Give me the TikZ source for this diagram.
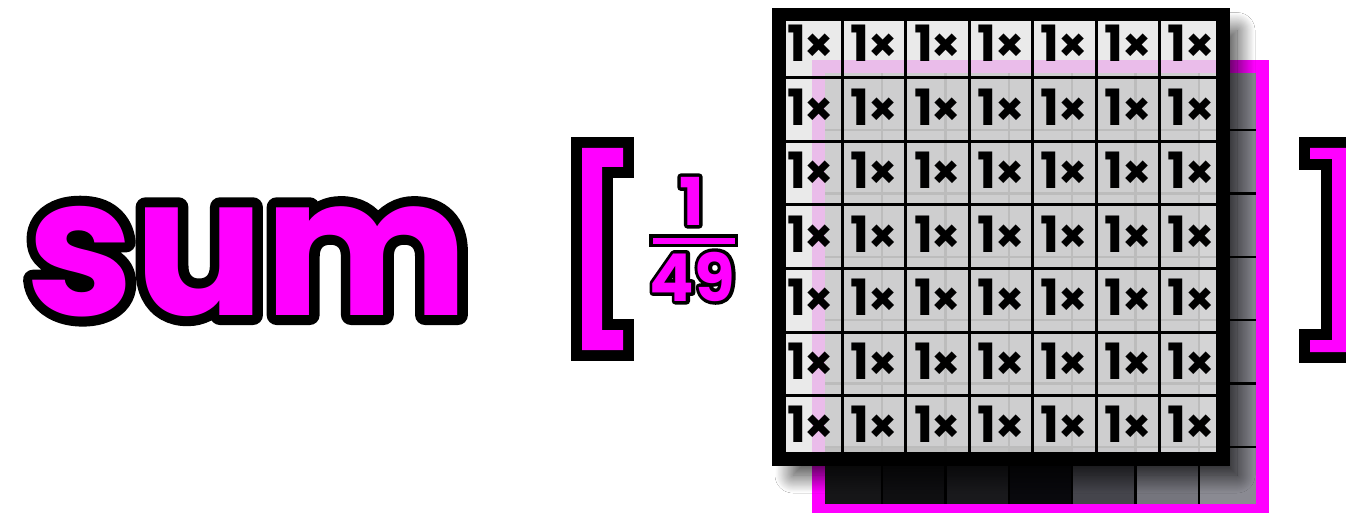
\documentclass[tikz,border=0pt]{standalone}
\usepackage{fontspec}
\newfontfamily\pop{Poppins}
\usetikzlibrary{shadows.blur}
\definecolor{mag}{HTML}{FF00FF}
\definecolor{backgray}{HTML}{666669}
\definecolor{frontgray}{HTML}{E6E6E6}
\newcommand\outlined[2]{\special{pdf:literal direct 2 Tr #1 w 1 j}#2\special{pdf:literal direct 0 Tr 0 j 0.4 w}}
\newcommand\onetimes{{\fontsize{50}{50}\selectfont 1\kern-1pt}{\fontsize{46}{46}\selectfont ×}}
\begin{document}
\begin{tikzpicture}[x=1pt,y=-1pt,
  lbl/.style={inner sep=0pt, font=\pop\bfseries, text=black},
  sumtxt/.style={inner sep=0pt, anchor=base, font=\pop\bfseries\fontsize{193}{193}\selectfont},
  fractxt/.style={inner sep=0pt, font=\pop\bfseries\fontsize{66}{66}\selectfont},
  brk/.style={line width=22pt, miter limit=10, draw=black},
  brkfill/.style={fill=mag},
  gridline/.style={line width=3pt, draw=black},
  backline/.style={line width=2.5pt, draw=black},
]
\useasboundingbox[fill=white] (0,0) rectangle (1346,513);

% ---------- back image ----------
\fill[backgray] (818.5,66.5) rectangle (1262.5,510.5);
\foreach \r in {0,...,5}
  \fill[fill={rgb,255:red,133;green,133;blue,141}] (1199,{66.5+63.43*\r}) rectangle (1262.5,{66.5+63.43*(\r+1)});
\foreach \c/\col in {0/161618,1/0F0F11,2/19191C,3/09090D,4/45454C,5/75757D,6/8A8A92}{
  \definecolor{tmpc}{HTML}{\col}
  \fill[tmpc] ({818.5+63.43*\c},447) rectangle ({818.5+63.43*(\c+1)},510.5);
}
\foreach \k in {1,...,6}{
  \draw[backline] ({818.5+63.43*\k},66.5) -- ({818.5+63.43*\k},510.5);
  \draw[backline] (818.5,{66.5+63.43*\k}) -- (1262.5,{66.5+63.43*\k});
}
\draw[line width=13pt, draw=mag] (818.5,66.5) rectangle (1262.5,510.5);

% ---------- shadow of the front grid ----------
\begin{scope}[even odd rule]
  \clip (0,0) rectangle (1346,513) (772,8) rectangle (1230,465);
  \path[blur shadow={shadow xshift=14pt, shadow yshift=-16pt, shadow blur radius=18pt, shadow blur steps=40, shadow opacity=80}]
    (779,14.5) rectangle (1223,459);
\end{scope}

% ---------- front grid ----------
\fill[frontgray, fill opacity=0.82] (779,14.5) rectangle (1223,459);
\foreach \k in {1,...,6}{
  \draw[gridline] ({779+63.43*\k},14.5) -- ({779+63.43*\k},459);
  \draw[gridline] (779,{14.5+63.5*\k}) -- (1223,{14.5+63.5*\k});
}
\draw[line width=13.5pt, draw=black] (779,14.5) rectangle (1223,459);
\foreach \r in {0,...,6}
  \foreach \c in {0,...,6}
    \node[lbl] (c\r\c) at ({779+63.43*(\c+0.5)},{14.5+63.5*(\r+0.5)-2.7}) {\onetimes};

% ---------- brackets ----------
\draw[brk] (623,148) -- (582,148) -- (582,350) -- (623,350) -- (623,330) -- (602,330) -- (602,167) -- (623,167) -- cycle;
\fill[brkfill] (623,148) -- (582,148) -- (582,350) -- (623,350) -- (623,330) -- (602,330) -- (602,167) -- (623,167) -- cycle;
\draw[brk] (1310,148) -- (1352,148) -- (1352,352) -- (1310,352) -- (1310,340) -- (1332,340) -- (1332,159) -- (1310,159) -- cycle;
\fill[brkfill] (1310,148) -- (1352,148) -- (1352,352) -- (1310,352) -- (1310,340) -- (1332,340) -- (1332,159) -- (1310,159) -- cycle;

% ---------- fraction ----------
\draw[line width=7pt, draw=black] (652.5,237.5) rectangle (734.5,243.5);
\fill[mag] (652.5,237.5) rectangle (734.5,243.5);
\node[fractxt, text=black] (oneO) at (691.5,201) {\outlined{7}{1}};
\node[fractxt, text=mag] (one) at (691.5,201) {1};
\node[fractxt, text=black] (fnO) at (692.5,276.5) {\outlined{7}{49}};
\node[fractxt, text=mag] (fn) at (692.5,276.5) {49};

% ---------- sum ----------
\node[sumtxt, text=black] (sumO) at (248,315) {\outlined{20}{sum}};
\node[sumtxt, text=mag] (sum) at (248,315) {sum};
\end{tikzpicture}
\end{document}
